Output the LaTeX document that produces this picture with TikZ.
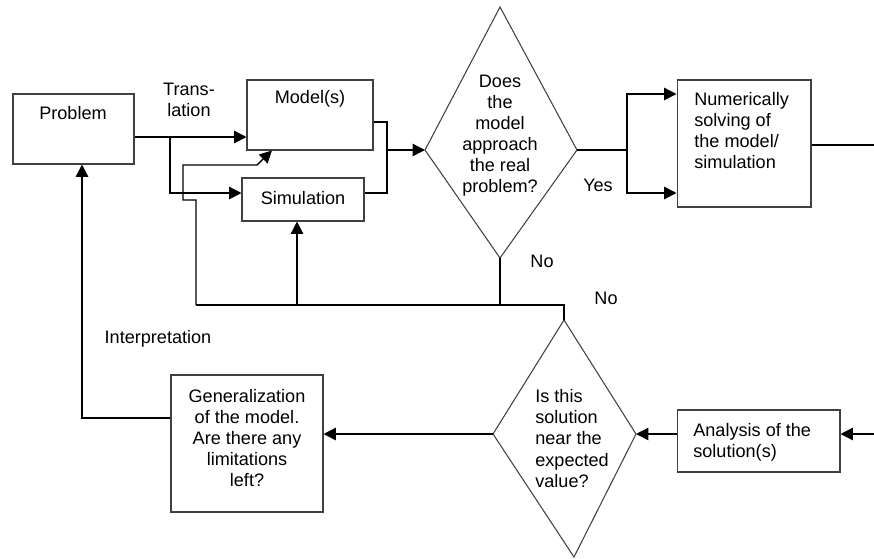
\documentclass[tikz,border=0pt]{standalone}
\usepackage{fontspec}
\setmainfont{Liberation Sans}
\usetikzlibrary{arrows.meta}

\begin{document}
\begin{tikzpicture} [x = 0.02cm, y = -0.02cm, 
  box/.style = {draw = black!75, line width = 0.6pt, rectangle, inner sep = 0pt},
  txt/.style = {font = \fontsize{10.3}{12}\selectfont, inner sep = 0pt},
  flow/.style = {black, line width = 0.8pt},
  arr/.style = {flow, -{Triangle[length = 7pt, width = 7pt]}},
  rhomb/.style = {draw = black!75, line width = 0.6pt}]
\useasboundingbox (0, 0) rectangle (874, 558);
% boxes
\node[box, minimum width = 2.42cm, minimum height = 1.4cm] (problem) at (73.5, 129) {};
\node[box, minimum width = 2.52cm, minimum height = 1.4cm] (model) at (310, 115) {};
\node[box, minimum width = 2.44cm, minimum height = 0.86cm] (sim) at (303, 199.5) {};
\node[box, minimum width = 2.68cm, minimum height = 2.54cm] (num) at (744, 143.5) {};
\node[box, minimum width = 3.26cm, minimum height = 1.24cm] (ana) at (758.5, 441) {};
\node[box, minimum width = 3.04cm, minimum height = 2.74cm] (gen) at (247, 443.5) {};
% diamonds
\coordinate (d1t) at (500, 7);
\coordinate (d1l) at (425, 150);
\coordinate (d1r) at (577, 150);
\coordinate (d1b) at (500, 258);
\draw[rhomb] (d1t) -- (d1r) -- (d1b) -- (d1l) -- cycle;
\coordinate (d2t) at (564, 320);
\coordinate (d2l) at (493, 434);
\coordinate (d2r) at (636, 434);
\coordinate (d2b) at (574, 557);
\draw[rhomb] (d2t) -- (d2r) -- (d2b) -- (d2l) -- cycle;
% texts
\node[txt] (problemtxt) at (73, 113) {Problem};
\node[txt] (modeltxt) at (310, 99) {Model(s)};
\node[txt] (simtxt) at (303, 198) {Simulation};
\node[txt, align = left, anchor = north west] (numtxt) at (694, 92) {Numerically\\solving of\\the model/\\simulation};
\node[txt, align = left, anchor = north west] (anatxt) at (693, 423) {Analysis of the\\solution(s)};
\node[txt, align = center] (gentxt) at (247, 438) {Generalization\\of the model.\\Are there any\\limitations\\left?};
\node[txt, align = center] (d1txt) at (500, 135.5) {Does\\the\\model\\approach\\the real\\problem?};
\node[txt, align = left, anchor = west] (d2txt) at (535, 438.5) {Is this\\solution\\near the\\expected\\value?};
\node[txt, align = center] (translbl) at (189, 100) {Trans-\\lation};
\node[txt] (yeslbl) at (598, 185) {Yes};
\node[txt] (nolbla) at (542, 261) {No};
\node[txt] (nolblb) at (606, 298) {No};
\node[txt] (interlbl) at (158, 339) {Interpretation};
% connectors
\coordinate (tr) at (170, 137);
\coordinate (mj) at (387, 150);
\coordinate (yj) at (627, 150);
\coordinate (nj) at (500, 305);
\coordinate (fb) at (196, 305);
\coordinate (numout) at (874, 145);
\coordinate (anain) at (874, 434);
\draw[arr] (problem.east |- tr) -- (model.west |- tr);
\draw[arr] (tr) |- ([yshift = 0.13cm]sim.west);
\draw[flow] ([yshift = -0.14cm]model.east) -| (mj) |- ([yshift = 0.13cm]sim.east);
\draw[arr] (mj) -- (d1l);
\draw[flow] (d1r) -- (yj);
\draw[arr] (yj) |- ([yshift = 0.99cm]num.west);
\draw[arr] (yj) |- ([yshift = -0.99cm]num.west);
\draw[flow] (num.east |- numout) -- (numout);
\draw[flow] (d1b) -- (nj);
\draw[flow] (fb) -- (nj) -| (d2t);
\draw[arr] ([xshift = -0.12cm]sim.south |- nj) -- ([xshift = -0.12cm]sim.south);
\draw[arr] (fb) -- ++(0, -105) -- ++(-13, 0) -- ++(0, -35) -- ++(74, 0) -- ([xshift = -0.76cm]model.south);
\draw[arr] (anain) -- (ana.east |- anain);
\draw[arr] (ana.west |- d2r) -- (d2r);
\draw[arr] (d2l) -- (gen.east |- d2l);
\draw[arr] ([yshift = 0.51cm]gen.west) -| ([xshift = 0.17cm]problem.south);
\end{tikzpicture}
\end{document}
